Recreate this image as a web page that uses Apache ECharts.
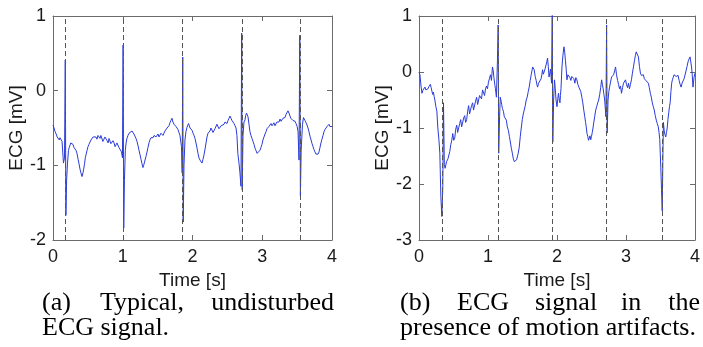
<!DOCTYPE html>
<html>
<head>
<meta charset="utf-8">
<script src="https://cdn.jsdelivr.net/npm/echarts@6/dist/echarts.min.js"></script>
<style>
html,body{margin:0;padding:0;background:#fff;}
#chart{width:703px;height:347px;}
</style>
</head>
<body>
<div id="chart"></div>
<script>
// ---- Data ----
var xTicks = [0, 1, 2, 3, 4];
var yRangeA = [-2, 1];
var yRangeB = [-3, 1];

// (a) Typical, undisturbed ECG: [time s, ECG mV]
var ecgA = [[0,-0.46],[0.015,-0.50],[0.03,-0.55],[0.045,-0.58],[0.06,-0.62],[0.075,-0.60],[0.09,-0.66],[0.10,-0.63],[0.115,-0.64],[0.13,-0.68],[0.14,-0.70],[0.15,-0.97],[0.165,-0.90],[0.176,0.41],[0.185,-1.67],[0.195,-1.20],[0.208,-0.97],[0.222,-0.80],[0.233,-0.76],[0.244,-0.73],[0.255,-0.70],[0.265,-0.68],[0.276,-0.71],[0.287,-0.72],[0.30,-0.76],[0.315,-0.78],[0.33,-0.80],[0.344,-0.84],[0.36,-0.92],[0.373,-0.98],[0.387,-1.05],[0.40,-1.10],[0.416,-1.15],[0.43,-1.10],[0.44,-1.05],[0.452,-0.98],[0.463,-0.90],[0.473,-0.86],[0.488,-0.80],[0.502,-0.75],[0.515,-0.72],[0.53,-0.70],[0.545,-0.66],[0.56,-0.66],[0.575,-0.62],[0.588,-0.63],[0.60,-0.60],[0.616,-0.62],[0.63,-0.65],[0.645,-0.60],[0.66,-0.62],[0.674,-0.64],[0.687,-0.60],[0.70,-0.62],[0.715,-0.68],[0.73,-0.67],[0.745,-0.62],[0.76,-0.64],[0.775,-0.67],[0.79,-0.70],[0.803,-0.64],[0.817,-0.66],[0.83,-0.71],[0.846,-0.72],[0.86,-0.67],[0.875,-0.70],[0.89,-0.75],[0.903,-0.74],[0.917,-0.70],[0.93,-0.72],[0.945,-0.76],[0.96,-0.78],[0.982,-0.82],[0.996,-0.90],[1.005,0.61],[1.014,-1.84],[1.024,-1.20],[1.037,-0.80],[1.048,-0.70],[1.06,-0.64],[1.075,-0.60],[1.09,-0.57],[1.104,-0.58],[1.118,-0.55],[1.133,-0.54],[1.147,-0.56],[1.16,-0.58],[1.176,-0.60],[1.19,-0.64],[1.204,-0.68],[1.22,-0.74],[1.233,-0.80],[1.248,-0.86],[1.262,-0.92],[1.276,-0.98],[1.29,-1.03],[1.30,-1.00],[1.312,-0.98],[1.333,-0.88],[1.348,-0.82],[1.362,-0.76],[1.376,-0.70],[1.39,-0.66],[1.405,-0.63],[1.42,-0.61],[1.434,-0.63],[1.448,-0.60],[1.462,-0.58],[1.477,-0.62],[1.49,-0.60],[1.505,-0.58],[1.52,-0.62],[1.534,-0.61],[1.548,-0.57],[1.563,-0.56],[1.577,-0.60],[1.59,-0.58],[1.605,-0.54],[1.62,-0.55],[1.635,-0.50],[1.65,-0.52],[1.663,-0.47],[1.677,-0.43],[1.69,-0.40],[1.706,-0.37],[1.72,-0.42],[1.735,-0.45],[1.75,-0.44],[1.763,-0.48],[1.778,-0.50],[1.792,-0.52],[1.806,-0.56],[1.82,-0.60],[1.842,-0.75],[1.852,-1.10],[1.86,0.45],[1.867,-1.76],[1.878,-1.00],[1.892,-0.66],[1.906,-0.55],[1.921,-0.49],[1.943,-0.44],[1.955,-0.47],[1.964,-0.50],[1.98,-0.51],[1.993,-0.53],[2.008,-0.57],[2.022,-0.60],[2.036,-0.64],[2.05,-0.70],[2.065,-0.77],[2.079,-0.84],[2.093,-0.90],[2.108,-0.93],[2.122,-0.95],[2.136,-0.97],[2.15,-0.92],[2.165,-0.86],[2.18,-0.78],[2.194,-0.70],[2.208,-0.62],[2.222,-0.57],[2.237,-0.55],[2.251,-0.54],[2.265,-0.50],[2.28,-0.52],[2.294,-0.56],[2.308,-0.55],[2.322,-0.51],[2.337,-0.50],[2.35,-0.45],[2.366,-0.47],[2.38,-0.51],[2.394,-0.50],[2.41,-0.47],[2.423,-0.46],[2.437,-0.49],[2.452,-0.45],[2.466,-0.42],[2.48,-0.42],[2.495,-0.44],[2.509,-0.40],[2.523,-0.37],[2.538,-0.34],[2.552,-0.37],[2.566,-0.40],[2.58,-0.41],[2.595,-0.44],[2.61,-0.47],[2.624,-0.50],[2.637,-0.60],[2.65,-0.84],[2.668,-0.98],[2.68,-1.10],[2.695,-1.28],[2.705,0.77],[2.713,-1.33],[2.724,-0.60],[2.738,-0.42],[2.753,-0.39],[2.763,-0.33],[2.774,-0.30],[2.785,-0.32],[2.796,-0.35],[2.81,-0.45],[2.824,-0.55],[2.838,-0.60],[2.853,-0.64],[2.868,-0.68],[2.882,-0.72],[2.896,-0.77],[2.91,-0.80],[2.925,-0.84],[2.939,-0.86],[2.953,-0.84],[2.968,-0.80],[2.982,-0.76],[2.996,-0.72],[3.01,-0.66],[3.025,-0.62],[3.04,-0.58],[3.054,-0.55],[3.068,-0.51],[3.082,-0.50],[3.096,-0.48],[3.11,-0.47],[3.125,-0.44],[3.14,-0.47],[3.154,-0.45],[3.168,-0.43],[3.183,-0.47],[3.197,-0.46],[3.21,-0.42],[3.225,-0.44],[3.24,-0.42],[3.255,-0.38],[3.27,-0.41],[3.283,-0.40],[3.297,-0.37],[3.31,-0.39],[3.326,-0.36],[3.34,-0.32],[3.355,-0.30],[3.369,-0.27],[3.383,-0.30],[3.398,-0.34],[3.41,-0.37],[3.425,-0.38],[3.441,-0.40],[3.455,-0.42],[3.47,-0.41],[3.484,-0.44],[3.5,-0.48],[3.513,-0.55],[3.527,-0.93],[3.538,0.74],[3.547,-1.41],[3.558,-0.80],[3.577,-0.45],[3.591,-0.36],[3.60,-0.38],[3.613,-0.40],[3.628,-0.43],[3.642,-0.46],[3.656,-0.50],[3.67,-0.55],[3.685,-0.61],[3.70,-0.66],[3.714,-0.71],[3.728,-0.75],[3.742,-0.79],[3.756,-0.82],[3.77,-0.85],[3.785,-0.86],[3.80,-0.85],[3.814,-0.82],[3.828,-0.76],[3.842,-0.70],[3.856,-0.65],[3.871,-0.60],[3.885,-0.55],[3.90,-0.52],[3.914,-0.50],[3.928,-0.48],[3.943,-0.46],[3.957,-0.45],[3.97,-0.48],[3.985,-0.46],[4.0,-0.48]];
var peaksA = [0.18, 1.01, 1.86, 2.71, 3.54];

// (b) ECG in presence of motion artifacts: [time s, ECG mV]
var ecgB = [[0,0.00],[0.014,-0.05],[0.029,-0.25],[0.043,-0.38],[0.054,-0.33],[0.065,-0.30],[0.075,-0.36],[0.086,-0.27],[0.10,-0.32],[0.115,-0.35],[0.13,-0.30],[0.144,-0.26],[0.155,-0.24],[0.165,-0.22],[0.176,-0.28],[0.187,-0.30],[0.198,-0.40],[0.209,-0.36],[0.22,-0.44],[0.23,-0.50],[0.245,-0.62],[0.259,-0.70],[0.273,-1.00],[0.288,-1.20],[0.302,-1.45],[0.317,-2.23],[0.331,-2.58],[0.345,-2.05],[0.355,-0.55],[0.367,-1.65],[0.378,-1.72],[0.388,-1.70],[0.40,-1.60],[0.41,-1.62],[0.42,-1.55],[0.432,-1.54],[0.446,-1.42],[0.46,-1.30],[0.475,-1.22],[0.489,-1.10],[0.503,-1.22],[0.518,-1.18],[0.532,-1.02],[0.547,-0.95],[0.56,-1.08],[0.576,-1.05],[0.59,-0.92],[0.604,-0.85],[0.618,-0.98],[0.633,-0.95],[0.648,-0.82],[0.662,-0.78],[0.676,-0.90],[0.691,-0.85],[0.705,-0.70],[0.719,-0.60],[0.733,-0.75],[0.748,-0.72],[0.762,-0.60],[0.777,-0.55],[0.79,-0.68],[0.806,-0.65],[0.82,-0.52],[0.835,-0.45],[0.85,-0.58],[0.863,-0.55],[0.878,-0.42],[0.892,-0.40],[0.906,-0.48],[0.921,-0.32],[0.935,-0.35],[0.95,-0.42],[0.964,-0.30],[0.978,-0.25],[0.992,-0.30],[1.007,-0.18],[1.02,-0.12],[1.036,-0.05],[1.05,-0.15],[1.065,0.09],[1.076,0.02],[1.086,-0.10],[1.098,-0.22],[1.108,-0.30],[1.122,-0.45],[1.137,0.20],[1.147,0.84],[1.155,-1.45],[1.168,-0.80],[1.178,-0.45],[1.187,-0.50],[1.198,-0.58],[1.209,-0.65],[1.223,-0.70],[1.237,-0.80],[1.25,-0.82],[1.266,-0.86],[1.28,-0.98],[1.295,-1.04],[1.31,-1.15],[1.324,-1.25],[1.338,-1.36],[1.353,-1.45],[1.367,-1.55],[1.381,-1.60],[1.392,-1.63],[1.403,-1.62],[1.414,-1.57],[1.424,-1.54],[1.438,-1.45],[1.453,-1.34],[1.468,-1.15],[1.482,-1.00],[1.497,-0.85],[1.511,-0.75],[1.525,-0.68],[1.54,-0.60],[1.554,-0.50],[1.568,-0.45],[1.583,-0.35],[1.597,-0.27],[1.612,-0.15],[1.626,-0.05],[1.637,0.02],[1.647,0.09],[1.658,0.06],[1.669,0.04],[1.684,-0.08],[1.698,-0.15],[1.708,-0.22],[1.719,-0.27],[1.733,-0.20],[1.748,-0.18],[1.76,-0.22],[1.77,-0.12],[1.78,-0.05],[1.791,0.04],[1.802,-0.04],[1.813,0.00],[1.828,0.06],[1.842,0.09],[1.852,0.18],[1.863,0.25],[1.874,0.10],[1.885,-0.09],[1.895,-0.02],[1.906,0.05],[1.914,-0.08],[1.921,-0.20],[1.931,1.05],[1.939,-1.25],[1.951,-0.50],[1.964,-0.14],[1.975,-0.30],[1.986,-0.50],[2.0,-0.62],[2.011,-0.48],[2.022,-0.38],[2.033,-0.50],[2.043,-0.55],[2.05,-0.42],[2.058,-0.30],[2.072,0.09],[2.086,0.30],[2.101,0.45],[2.112,0.35],[2.122,0.21],[2.133,0.05],[2.144,-0.14],[2.158,-0.05],[2.173,-0.02],[2.187,-0.10],[2.201,-0.15],[2.215,-0.08],[2.23,-0.05],[2.245,-0.12],[2.259,-0.20],[2.273,-0.10],[2.288,-0.14],[2.302,-0.22],[2.317,-0.27],[2.33,-0.30],[2.345,-0.35],[2.36,-0.45],[2.374,-0.55],[2.388,-0.68],[2.403,-0.80],[2.414,-0.90],[2.424,-0.98],[2.435,-1.10],[2.446,-1.15],[2.457,-1.22],[2.468,-1.20],[2.478,-1.14],[2.489,-1.21],[2.50,-1.15],[2.511,-1.08],[2.522,-1.00],[2.532,-0.91],[2.546,-0.80],[2.561,-0.68],[2.575,-0.62],[2.59,-0.55],[2.604,-0.50],[2.619,-0.40],[2.633,-0.28],[2.647,-0.14],[2.658,-0.22],[2.669,-0.30],[2.68,-0.40],[2.691,-0.50],[2.709,-0.80],[2.719,0.84],[2.727,-1.09],[2.74,-0.50],[2.751,-0.35],[2.762,-0.27],[2.776,-0.18],[2.791,-0.09],[2.805,-0.12],[2.82,-0.05],[2.835,0.02],[2.849,0.09],[2.863,-0.05],[2.878,-0.15],[2.892,-0.22],[2.906,-0.30],[2.92,-0.25],[2.935,-0.38],[2.95,-0.28],[2.964,-0.20],[2.978,-0.22],[2.993,-0.14],[3.007,-0.22],[3.022,-0.28],[3.036,-0.20],[3.05,-0.30],[3.065,-0.22],[3.079,-0.14],[3.093,-0.02],[3.108,0.09],[3.122,0.20],[3.137,0.30],[3.148,0.36],[3.158,0.39],[3.169,0.33],[3.18,0.27],[3.195,0.10],[3.209,-0.02],[3.223,-0.06],[3.237,-0.09],[3.252,-0.05],[3.266,-0.12],[3.28,-0.10],[3.295,-0.16],[3.31,-0.14],[3.324,-0.20],[3.338,-0.28],[3.353,-0.38],[3.367,-0.45],[3.381,-0.55],[3.396,-0.62],[3.41,-0.68],[3.424,-0.78],[3.439,-0.86],[3.453,-0.92],[3.468,-0.98],[3.479,-1.08],[3.489,-1.20],[3.504,-1.70],[3.515,-2.10],[3.525,-2.48],[3.534,-1.60],[3.542,-0.90],[3.554,-1.05],[3.565,-1.12],[3.576,-1.16],[3.587,-1.08],[3.597,-1.00],[3.608,-0.85],[3.619,-0.73],[3.63,-0.62],[3.64,-0.55],[3.651,-0.35],[3.662,-0.20],[3.672,-0.14],[3.683,-0.10],[3.697,-0.05],[3.712,-0.02],[3.726,-0.08],[3.741,-0.10],[3.755,-0.06],[3.77,-0.15],[3.784,-0.22],[3.799,-0.27],[3.813,-0.20],[3.827,-0.18],[3.842,-0.12],[3.856,-0.09],[3.87,0.02],[3.885,0.10],[3.895,0.16],[3.906,0.21],[3.917,0.24],[3.928,0.27],[3.939,0.18],[3.95,0.09],[3.96,-0.05],[3.971,-0.27],[3.986,-0.10],[4.0,-0.02]];
var peaksB = [0.34, 1.15, 1.93, 2.72, 3.53];

var captionA = [['(a)', 'Typical,', 'undisturbed'], ['ECG signal.']];
var captionB = [['(b)', 'ECG', 'signal', 'in', 'the'], ['presence of motion artifacts.']];

// ---- Chart ----
var axisColor = '#6b6b6b';
var textColor = '#1a1a1a';
var sans = '"Liberation Sans", Arial, sans-serif';
var serif = '"Liberation Serif", "Times New Roman", serif';

function xAx(grid, pos, showLabel, withName) {
  return {
    type: 'value', gridIndex: grid, position: pos, min: xTicks[0], max: xTicks[xTicks.length - 1], interval: 1,
    name: withName ? 'Time [s]' : '', nameLocation: 'middle', nameGap: 27,
    nameTextStyle: { fontFamily: sans, fontSize: 19, color: textColor },
    axisLine: { show: true, onZero: false, lineStyle: { color: axisColor, width: 1 } },
    axisTick: { show: true, inside: true, length: 5, lineStyle: { color: axisColor } },
    axisLabel: { show: showLabel, fontFamily: sans, fontSize: 18, color: textColor, margin: 8 },
    splitLine: { show: false }
  };
}
function yAx(grid, pos, range, showLabel, withName) {
  return {
    type: 'value', gridIndex: grid, position: pos, min: range[0], max: range[1], interval: 1,
    name: withName ? 'ECG [mV]' : '', nameLocation: 'middle', nameGap: 26, nameRotate: 90,
    nameTextStyle: { fontFamily: sans, fontSize: 19, color: textColor },
    axisLine: { show: true, onZero: false, lineStyle: { color: axisColor, width: 1 } },
    axisTick: { show: true, inside: true, length: 5, lineStyle: { color: axisColor } },
    axisLabel: { show: showLabel, fontFamily: sans, fontSize: 18, color: textColor, margin: 7 },
    splitLine: { show: false }
  };
}
function markLines(peaks) {
  return {
    silent: true, symbol: ['none', 'none'], label: { show: false }, animation: false,
    lineStyle: { type: [5, 3], color: '#555', width: 1 },
    data: peaks.map(function (p) { return { xAxis: p }; })
  };
}
function word(txt, x, y, align) {
  return { type: 'text', x: x, y: y, silent: true,
    style: { text: txt, fontFamily: serif, fontSize: 26, fill: '#000', align: align || 'left', verticalAlign: 'middle' } };
}
var L1 = 303, L2 = 328;

var option = {
  animation: false,
  backgroundColor: '#fff',
  grid: [
    { left: 53, top: 16, width: 279, height: 224 },
    { left: 419, top: 16, width: 278, height: 224 }
  ],
  xAxis: [
    xAx(0, 'bottom', true, true), xAx(0, 'top', false, false),
    xAx(1, 'bottom', true, true), xAx(1, 'top', false, false)
  ],
  yAxis: [
    yAx(0, 'left', yRangeA, true, true), yAx(0, 'right', yRangeA, false, false),
    yAx(1, 'left', yRangeB, true, true), yAx(1, 'right', yRangeB, false, false)
  ],
  series: [
    { type: 'line', xAxisIndex: 0, yAxisIndex: 0, data: ecgA, showSymbol: false,
      lineStyle: { color: '#2a3bd8', width: 1 }, itemStyle: { color: '#2a3bd8' }, markLine: markLines(peaksA) },
    { type: 'line', xAxisIndex: 2, yAxisIndex: 2, data: ecgB, showSymbol: false,
      lineStyle: { color: '#2a3bd8', width: 1 }, itemStyle: { color: '#2a3bd8' }, markLine: markLines(peaksB) }
  ],
  graphic: [
    word(captionA[0][0], 42, L1), word(captionA[0][1], 100, L1), word(captionA[0][2], 334, L1, 'right'),
    word(captionA[1][0], 42, L2),
    word(captionB[0][0], 400, L1), word(captionB[0][1], 457, L1), word(captionB[0][2], 535, L1),
    word(captionB[0][3], 621, L1), word(captionB[0][4], 700, L1, 'right'),
    word(captionB[1][0], 400, L2)
  ]
};

var chart = echarts.init(document.getElementById('chart'), null, { renderer: 'canvas' });
chart.setOption(option);
</script>
</body>
</html>
